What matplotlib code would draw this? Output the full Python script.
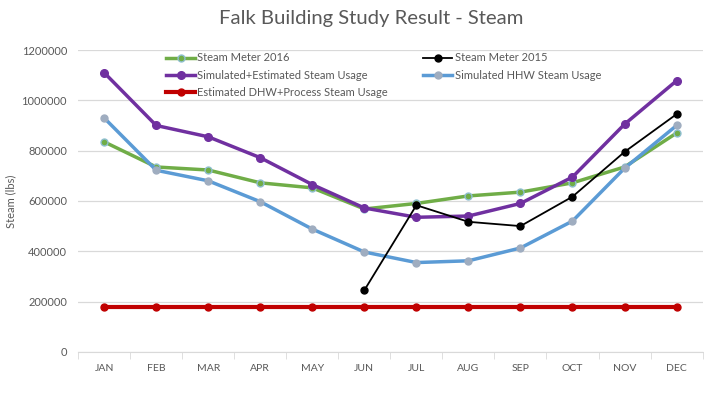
import matplotlib
matplotlib.use("Agg")
import matplotlib.pyplot as plt
import numpy as np

months = ["JAN", "FEB", "MAR", "APR", "MAY", "JUN", "JUL", "AUG", "SEP", "OCT", "NOV", "DEC"]

# Steam (lbs)
meter_2016 = [835000, 735000, 723000, 672000, 652000, 568000, 590000, 620000, 635000, 672000, 735000, 870000]
meter_2015 = [None, None, None, None, None, 245000, 583000, 517000, 500000, 617000, 795000, 945000]
sim_est = [1110000, 900000, 855000, 772000, 665000, 572000, 535000, 540000, 590000, 695000, 905000, 1078000]
sim_hhw = [930000, 722000, 680000, 597000, 488000, 397000, 355000, 362000, 413000, 520000, 730000, 900000]
dhw_process = [180000] * 12

plt.rcParams['font.family'] = ['Lato', 'DejaVu Sans']

fig = plt.figure(figsize=(7.04, 3.94), dpi=100)
ax = fig.add_axes([0.111, 0.107, 0.887, 0.766])

x = np.arange(len(months))
m2015 = np.array([np.nan if v is None else v for v in meter_2015], dtype=float)

l16, = ax.plot(x, meter_2016, color="#70AD47", lw=2.5, marker='o', ms=5,
               markerfacecolor="#70AD47", markeredgecolor="#8FBFD0", label="Steam Meter 2016", zorder=3)
l15, = ax.plot(x, m2015, color="black", lw=1.3, marker='o', ms=5, label="Steam Meter 2015", zorder=6)
lse, = ax.plot(x, sim_est, color="#7030A0", lw=2.5, marker='o', ms=5.5,
               label="Simulated+Estimated Steam Usage", zorder=4)
lhhw, = ax.plot(x, sim_hhw, color="#5B9BD5", lw=2.5, marker='o', ms=5,
                markerfacecolor="#9FADC0", markeredgecolor="#9FADC0", label="Simulated HHW Steam Usage", zorder=5)
ldhw, = ax.plot(x, dhw_process, color="#C00000", lw=3, marker='o', ms=5,
                label="Estimated DHW+Process Steam Usage", zorder=3)

ax.set_xlim(-0.5, 11.5)
ax.set_ylim(0, 1200000)
ax.set_yticks(np.arange(0, 1200001, 200000))
ax.set_yticklabels([str(v) for v in range(0, 1200001, 200000)])
ax.set_xticks(x)
ax.set_xticklabels(months)
ax.set_xticks(np.arange(-0.5, 12, 1), minor=True)
ax.tick_params(axis='x', which='major', length=0, pad=9, labelsize=7.5, labelcolor="#595959")
ax.tick_params(axis='x', which='minor', length=5, color="#D9D9D9")
ax.tick_params(axis='y', length=0, pad=8, labelsize=8, labelcolor="#595959")

ax.grid(axis='y', color="#D9D9D9", lw=0.9)
ax.set_axisbelow(True)
for s in ["top", "right", "left"]:
    ax.spines[s].set_visible(False)
ax.spines["bottom"].set_color("#D9D9D9")

ax.set_ylabel("Steam (lbs)", fontsize=8, color="#595959", labelpad=4)
fig.suptitle("Falk Building Study Result - Steam", x=0.527, y=0.975, fontsize=14.6, color="#595959")

ax.legend(handles=[l16, lse, ldhw, l15, lhhw], ncol=2, loc="upper left",
          bbox_to_anchor=(0.125, 1.025), frameon=False, fontsize=8, labelcolor="#595959",
          handlelength=2.6, handletextpad=0.2, columnspacing=3.2, labelspacing=0.55)

plt.savefig("out.png", dpi=100)
